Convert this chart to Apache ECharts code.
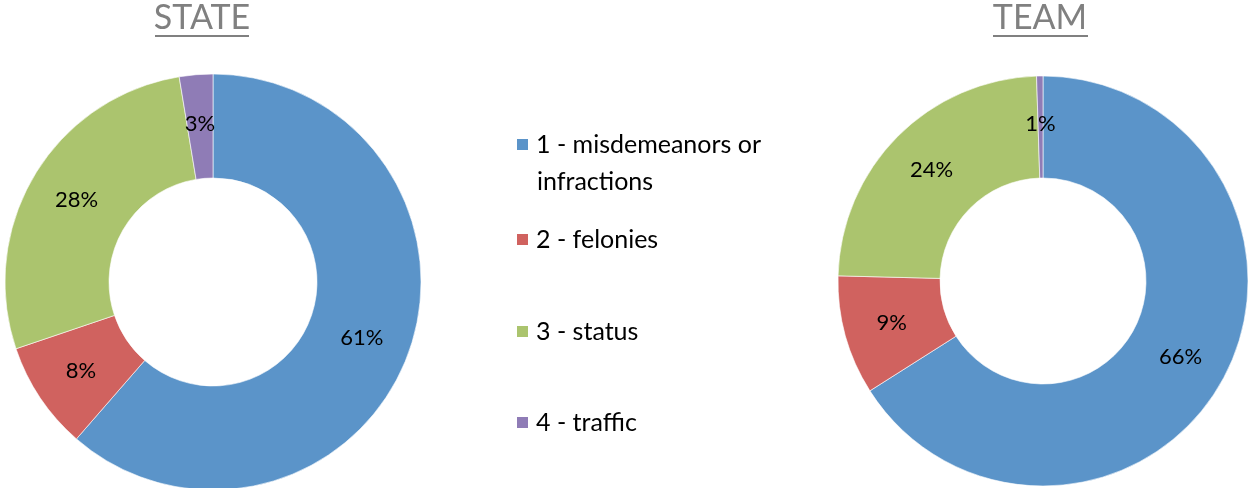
<!DOCTYPE html>
<html><head><meta charset="utf-8">
<script src="https://cdn.jsdelivr.net/npm/echarts@6/dist/echarts.min.js"></script>
<style>html,body{margin:0;padding:0;background:#fff}#c{width:1249px;height:488px}</style>
</head><body><div id="c"></div>
<script>
const categories = ['1 - misdemeanors or infractions', '2 - felonies', '3 - status', '4 - traffic'];
const stateValues = [61.4, 8.4, 27.6, 2.6];
const teamValues = [66.0, 9.4, 24.1, 0.5];
const chartTitles = ['STATE', 'TEAM'];
const colors = ['#5B94C9', '#D0625F', '#ABC46E', '#8F7CB6'];

const font = 'Lato, "Open Sans", sans-serif';
const chart = echarts.init(document.getElementById('c'), null, {renderer: 'canvas'});

function pieSeries(name, values, center, radius) {
  return {
    name: name, type: 'pie', center: center, radius: radius,
    startAngle: 90, clockwise: true, avoidLabelOverlap: false,
    label: { show: true, position: 'inside', color: '#000', fontSize: 22, fontFamily: font,
      formatter: p => Math.round(p.percent) + '%' },
    labelLine: { show: false },
    itemStyle: { borderColor: '#fff', borderWidth: 0.6 },
    emphasis: { disabled: true },
    data: categories.map((c, i) => ({ name: c, value: values[i] }))
  };
}

const legendTops = [127, 222, 314, 405];
const legends = categories.map((c, i) => ({
  data: [c], left: 510, top: legendTops[i], orient: 'vertical',
  itemWidth: 13, itemHeight: 13, icon: 'rect', selectedMode: false, itemGap: 0,
  formatter: n => n === categories[0] ? '1 - misdemeanors or' : n,
  textStyle: { fontSize: 25, fontFamily: font, color: '#000', padding: [0, 0, 0, 2] }
}));

function titleText(t, x) {
  return { type: 'text', x: x, y: 18, style: { text: t, fill: '#808080', fontSize: 34,
    fontFamily: font, align: 'center', verticalAlign: 'middle' } };
}

chart.setOption({
  animation: false,
  color: colors,
  graphic: [
    titleText(chartTitles[0], 202),
    titleText(chartTitles[1], 1040),
    { type: 'line', shape: { x1: 155, y1: 36, x2: 249, y2: 36 }, style: { stroke: '#808080', lineWidth: 2 } },
    { type: 'line', shape: { x1: 993, y1: 36, x2: 1088, y2: 36 }, style: { stroke: '#808080', lineWidth: 2 } },
    { type: 'text', x: 537, y: 182, style: { text: 'infractions', fill: '#000', fontSize: 25,
      fontFamily: font, align: 'left', verticalAlign: 'middle' } }
  ],
  legend: legends,
  series: [
    pieSeries('State', stateValues, [213, 282], [104, 208]),
    pieSeries('Team', teamValues, [1043, 281], [103, 205])
  ]
});
</script></body></html>
